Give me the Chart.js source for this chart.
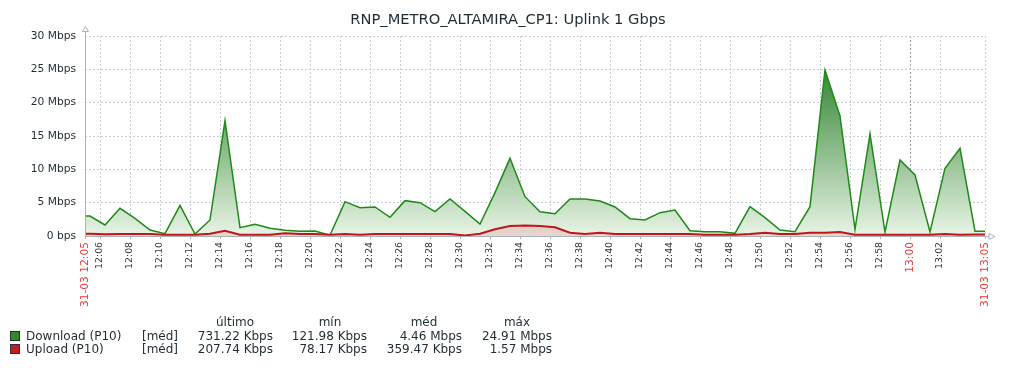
<!DOCTYPE html>
<html>
<head>
<meta charset="utf-8">
<script src="https://cdn.jsdelivr.net/npm/chart.js@4.4.1/dist/chart.umd.min.js"></script>
<style>
html,body{margin:0;padding:0;background:#fff;}
#wrap{position:relative;width:1016px;height:368px;overflow:hidden;font-family:"DejaVu Sans",sans-serif;color:#1f2c33;}
#c{position:absolute;left:0;top:0;}
#title{position:absolute;left:0;top:11px;width:1016px;text-align:center;font-size:14.67px;line-height:16px;white-space:nowrap;}
.t{position:absolute;white-space:nowrap;font-size:12px;line-height:14px;}
.box{position:absolute;width:8px;height:8px;border:1px solid #2a3238;}
</style>
</head>
<body>
<div id="wrap">
<canvas id="c" width="1016" height="368"></canvas>
<div id="title"></div>
<div id="legend"></div>
</div>
<script>
// ---------------- data ----------------
const chartTitle = "RNP_METRO_ALTAMIRA_CP1: Uplink 1 Gbps";
const windowStart = "12:05:00";
const windowEnd = "13:05:00";

const sampleTimes = [
  "12:05:20","12:06:20","12:07:20","12:08:20","12:09:20","12:10:20","12:11:20","12:12:20","12:13:20","12:14:20",
  "12:15:20","12:16:20","12:17:20","12:18:20","12:19:20","12:20:20","12:21:20","12:22:20","12:23:20","12:24:20",
  "12:25:20","12:26:20","12:27:20","12:28:20","12:29:20","12:30:20","12:31:20","12:32:20","12:33:20","12:34:20",
  "12:35:20","12:36:20","12:37:20","12:38:20","12:39:20","12:40:20","12:41:20","12:42:20","12:43:20","12:44:20",
  "12:45:20","12:46:20","12:47:20","12:48:20","12:49:20","12:50:20","12:51:20","12:52:20","12:53:20","12:54:20",
  "12:55:20","12:56:20","12:57:20","12:58:20","12:59:20","13:00:20","13:01:20","13:02:20","13:03:20","13:04:20"
];

// Mbps
const downloadMbps = [
  3.0, 1.65, 4.15, 2.65, 0.9, 0.35, 4.6, 0.3, 2.4, 17.3,
  1.25, 1.75, 1.15, 0.85, 0.7, 0.75, 0.12, 5.15, 4.25, 4.35,
  2.8, 5.3, 5.0, 3.65, 5.55, 3.7, 1.8, 6.5, 11.65, 5.9,
  3.65, 3.35, 5.55, 5.55, 5.25, 4.35, 2.6, 2.4, 3.5, 3.9,
  0.8, 0.65, 0.65, 0.4, 4.4, 2.75, 0.9, 0.65, 4.4, 24.91,
  18.0, 1.0, 15.3, 0.6, 11.4, 9.15, 0.6, 10.15, 13.15, 0.73
];

const uploadMbps = [
  0.35, 0.25, 0.3, 0.3, 0.3, 0.2, 0.2, 0.2, 0.35, 0.8,
  0.2, 0.2, 0.2, 0.4, 0.3, 0.3, 0.2, 0.3, 0.2, 0.3,
  0.3, 0.3, 0.3, 0.3, 0.3, 0.08, 0.35, 1.0, 1.5, 1.57,
  1.5, 1.3, 0.5, 0.3, 0.5, 0.3, 0.3, 0.3, 0.3, 0.3,
  0.3, 0.2, 0.2, 0.2, 0.3, 0.5, 0.3, 0.3, 0.5, 0.5,
  0.6, 0.2, 0.2, 0.2, 0.2, 0.2, 0.2, 0.3, 0.2, 0.21
];

const yTickValues = [0, 5, 10, 15, 20, 25, 30];
const yTickLabels = ["0 bps", "5 Mbps", "10 Mbps", "15 Mbps", "20 Mbps", "25 Mbps", "30 Mbps"];

const xTickTimes = ["12:05","12:06","12:08","12:10","12:12","12:14","12:16","12:18","12:20","12:22",
  "12:24","12:26","12:28","12:30","12:32","12:34","12:36","12:38","12:40","12:42","12:44","12:46",
  "12:48","12:50","12:52","12:54","12:56","12:58","13:00","13:02","13:05"];
const xTickLabels = ["31-03 12:05","12:06","12:08","12:10","12:12","12:14","12:16","12:18","12:20","12:22",
  "12:24","12:26","12:28","12:30","12:32","12:34","12:36","12:38","12:40","12:42","12:44","12:46",
  "12:48","12:50","12:52","12:54","12:56","12:58","13:00","13:02","31-03 13:05"];
const xRedLabels = ["31-03 12:05", "13:00", "31-03 13:05"];

const seriesNames = ["Download (P10)", "Upload (P10)"];
const seriesFunc = ["[méd]", "[méd]"];
const statHeaders = ["último", "mín", "méd", "máx"];
const downloadStats = ["731.22 Kbps", "121.98 Kbps", "4.46 Mbps", "24.91 Mbps"];
const uploadStats = ["207.74 Kbps", "78.17 Kbps", "359.47 Kbps", "1.57 Mbps"];

// ---------------- helpers ----------------
function toMin(t) {
  const p = t.split(":").map(Number);
  return p[0] * 60 + p[1] + (p[2] || 0) / 60 - toMin0;
}
const toMin0 = (() => { const p = windowStart.split(":").map(Number); return p[0] * 60 + p[1] + (p[2] || 0) / 60; })();

// Zabbix extends the first/last sample to the window edges
function series(vals) {
  const pts = vals.map((v, i) => ({ x: toMin(sampleTimes[i]), y: v }));
  return [{ x: toMin(windowStart), y: vals[0] }, ...pts, { x: toMin(windowEnd), y: vals[vals.length - 1] }];
}

function vgrad(chart, top, bottom) {
  const a = chart.chartArea;
  if (!a) return bottom;
  const g = chart.ctx.createLinearGradient(0, a.top, 0, a.bottom);
  g.addColorStop(0, top);
  g.addColorStop(1, bottom);
  return g;
}

const GRID = "#c7ced4";
const AXIS = "#aab3ba";

const axesPlugin = {
  id: "zbxAxes",
  afterDatasetsDraw(chart) {
    const { ctx, chartArea: a } = chart;
    const L = Math.round(a.left) + 0.5, B = Math.round(a.bottom) + 0.5;
    ctx.save();
    ctx.strokeStyle = AXIS;
    ctx.lineWidth = 1;
    ctx.setLineDash([]);
    ctx.beginPath();
    ctx.moveTo(L, 31.5); ctx.lineTo(L, B);
    ctx.lineTo(a.right + 4, B);
    ctx.stroke();
    // arrows (outlined)
    ctx.fillStyle = "#fff";
    ctx.beginPath();
    ctx.moveTo(L - 3, 31.5); ctx.lineTo(L + 3, 31.5); ctx.lineTo(L, 26.5); ctx.closePath();
    ctx.fill(); ctx.stroke();
    ctx.beginPath();
    ctx.moveTo(a.right + 4, B - 3); ctx.lineTo(a.right + 4, B + 3); ctx.lineTo(a.right + 10, B); ctx.closePath();
    ctx.fill(); ctx.stroke();
    ctx.restore();
  }
};

// ---------------- chart ----------------
new Chart(document.getElementById("c"), {
  type: "line",
  data: {
    datasets: [
      {
        label: seriesNames[1],
        data: series(uploadMbps),
        borderColor: "#c0171b",
        borderWidth: 2,
        fill: "origin",
        backgroundColor: c => vgrad(c.chart, "#7a2a10", "#e7d7cf"),
        pointRadius: 0,
        tension: 0
      },
      {
        label: seriesNames[0],
        data: series(downloadMbps),
        borderColor: "#1f8a17",
        borderWidth: 1.5,
        fill: "origin",
        backgroundColor: c => vgrad(c.chart, "#127010", "#e8f4e6"),
        pointRadius: 0,
        tension: 0
      }
    ]
  },
  options: {
    responsive: false,
    animation: false,
    devicePixelRatio: 1,
    layout: { padding: { top: 36, right: 31, left: 0, bottom: 0 } },
    plugins: { legend: { display: false }, title: { display: false }, tooltip: { enabled: false } },
    scales: {
      x: {
        type: "linear",
        min: toMin(windowStart),
        max: toMin(windowEnd),
        afterBuildTicks: s => { s.ticks = xTickTimes.map(t => ({ value: toMin(t) })); },
        afterFit: s => { s.height = 132; },
        ticks: {
          autoSkip: false,
          minRotation: 90,
          maxRotation: 90,
          padding: 3,
          callback: (v, i) => xTickLabels[i],
          color: c => xRedLabels.includes(xTickLabels[c.index]) ? "#ea3b32" : "#2e363b",
          font: c => ({ family: "DejaVu Sans", size: xRedLabels.includes(xTickLabels[c.index]) ? 10.67 : 9.33 })
        },
        grid: {
          color: c => (c.tick && xTickLabels[c.index] === "13:00") ? "#98a3ab" : GRID,
          lineWidth: 1,
          drawTicks: true,
          tickLength: 3,
          tickColor: AXIS,
          tickBorderDash: []
        },
        border: { display: false, dash: [2, 2] }
      },
      y: {
        min: 0,
        max: 30,
        afterBuildTicks: s => { s.ticks = yTickValues.map(v => ({ value: v })); },
        afterFit: s => { s.width = 85; },
        ticks: {
          padding: 9,
          callback: (v, i) => yTickLabels[i],
          color: "#1f2c33",
          font: { family: "DejaVu Sans", size: 10.67 }
        },
        grid: { color: GRID, lineWidth: 1, drawTicks: false },
        border: { display: false, dash: [2, 2] }
      }
    }
  },
  plugins: [axesPlugin]
});

// ---------------- title & legend (HTML text) ----------------
document.getElementById("title").textContent = chartTitle;

const legend = document.getElementById("legend");
const colRight = [273, 367, 462, 552];
const colCenter = [235, 330, 424, 517];
const rowTop = [328.7, 342.2];
const headerTop = 315;
const boxColors = ["#2f8a2b", "#c41f1f"];
const rowStats = [downloadStats, uploadStats];

function addSpan(text, style) {
  const s = document.createElement("span");
  s.className = "t";
  s.textContent = text;
  Object.assign(s.style, style);
  legend.appendChild(s);
  return s;
}
statHeaders.forEach((h, i) => {
  addSpan(h, { left: (colCenter[i] - 50) + "px", width: "100px", textAlign: "center", top: headerTop + "px" });
});
seriesNames.forEach((n, r) => {
  const b = document.createElement("div");
  b.className = "box";
  b.style.left = "10px";
  b.style.top = (rowTop[r] + 2) + "px";
  b.style.background = boxColors[r];
  legend.appendChild(b);
  addSpan(n, { left: "26px", top: rowTop[r] + "px" });
  addSpan(seriesFunc[r], { left: "142px", top: rowTop[r] + "px" });
  rowStats[r].forEach((v, i) => {
    addSpan(v, { right: (1016 - colRight[i]) + "px", top: rowTop[r] + "px", textAlign: "right" });
  });
});
</script>
</body>
</html>
